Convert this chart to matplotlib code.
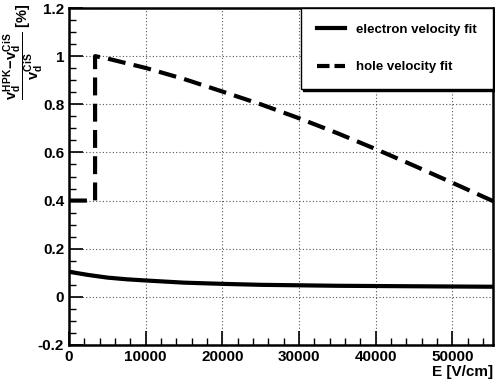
import numpy as np
import matplotlib
matplotlib.use("Agg")
import matplotlib.pyplot as plt
from matplotlib.ticker import MultipleLocator

plt.rcParams['font.family'] = ['Liberation Sans', 'DejaVu Sans']
plt.rcParams['font.weight'] = 'bold'
plt.rcParams['mathtext.fontset'] = 'custom'
plt.rcParams['mathtext.rm'] = 'Liberation Sans:bold'
plt.rcParams['mathtext.it'] = 'Liberation Sans:bold'
plt.rcParams['mathtext.bf'] = 'Liberation Sans:bold'

# electron velocity fit
e_field = [0, 1000, 2500, 5000, 7500, 10000, 15000, 20000, 25000, 30000,
           35000, 40000, 45000, 50000, 55500]
e_diff = [0.105, 0.099, 0.091, 0.080, 0.073, 0.068, 0.059, 0.054, 0.050, 0.048,
          0.046, 0.045, 0.044, 0.043, 0.042]

# hole velocity fit
h_field = [0, 3400, 3400, 5000, 10000, 15000, 20000, 25000, 30000, 35000,
           40000, 45000, 50000, 55500]
h_diff = [0.40, 0.40, 1.00, 0.99, 0.951, 0.905, 0.853, 0.80, 0.742, 0.68,
          0.614, 0.545, 0.474, 0.395]

fig = plt.figure(figsize=(4.95, 3.81), dpi=100)
ax = fig.add_axes([69 / 495, 36 / 381, 424 / 495, 337 / 381])

ax.plot(e_field, e_diff, color='black', lw=3, label='electron velocity fit')
ax.plot(h_field, h_diff, color='black', lw=3, dashes=(4.3, 2),
        label='hole velocity fit')

ax.set_xlim(0, 55300)
ax.set_ylim(-0.2, 1.2)
ax.xaxis.set_major_locator(MultipleLocator(10000))
ax.xaxis.set_minor_locator(MultipleLocator(2000))
ax.yaxis.set_minor_locator(MultipleLocator(0.05))
ax.set_yticks(np.arange(-0.2, 1.21, 0.2))
ax.set_yticklabels(['-0.2', '0', '0.2', '0.4', '0.6', '0.8', '1', '1.2'])
ax.tick_params(which='major', direction='in', length=10, width=1.2,
               labelsize=11, top=False, right=False)
ax.tick_params(which='minor', direction='in', length=5, width=1,
               top=False, right=False)
for s in ax.spines.values():
    s.set_linewidth(1.8)
ax.grid(True, which='major', color='#555555', linestyle=(0, (1, 2)), lw=0.8)

ax.set_xlabel('E [V/cm]', fontsize=11, fontweight='bold', loc='right',
              labelpad=1)
# y title placed by hand, like the ROOT one
fig.text(23 / 495, 1 - 4 / 381,
         r'$\dfrac{v_d^{HPK}\!-\!v_d^{CiS}}{v_d^{CiS}}$ [%]',
         fontsize=10.5, rotation=90, ha='center', va='top')

leg = ax.legend(loc='upper right', bbox_to_anchor=(1.0, 1.0), fontsize=9.5,
                fancybox=False, shadow={'ox': 1.5, 'oy': -1.5,
                                        'color': 'black', 'alpha': 1},
                framealpha=1, edgecolor='black',
                borderpad=1.2, labelspacing=1.9, handlelength=2.1,
                handletextpad=0.9, borderaxespad=0)
leg.get_frame().set_linewidth(1)
for t in leg.get_texts():
    t.set_fontweight('bold')
leg.get_lines()[1].set_dashes((3, 1.2))

fig.savefig('out.png', dpi=100)
